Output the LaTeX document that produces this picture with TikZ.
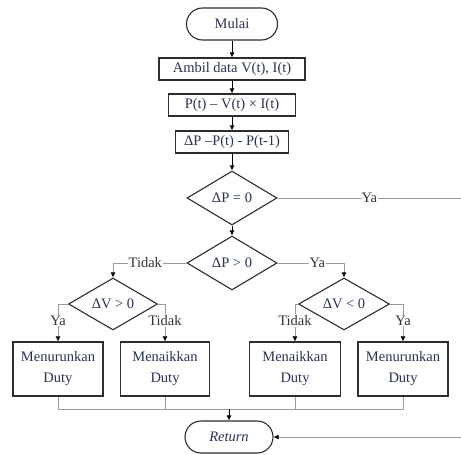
\documentclass[tikz,border=0pt]{standalone}
\usepackage{fontspec}
\setmainfont{Liberation Serif}
\usetikzlibrary{shapes.geometric,arrows.meta}
\definecolor{teks}{RGB}{40,52,82}
\definecolor{tepi}{RGB}{45,45,45}
\definecolor{abu}{RGB}{155,155,155}
\begin{document}
\begin{tikzpicture}[x=1pt,y=-1pt,
  font=\fontsize{14.5}{21}\selectfont,
  kotak/.style={rectangle, draw=tepi, line width=1.1pt, fill=white, text=teks, inner sep=1pt, align=center},
  keputusan/.style={diamond, aspect=2, draw=tepi, line width=1.1pt, fill=white, text=teks, inner sep=0pt},
  terminal/.style={rectangle, rounded corners=16pt, draw=tepi, line width=1.1pt, fill=white, text=teks},
  panah/.style={draw=black, line width=0.8pt, -{Latex[length=5pt,width=5pt]}},
  garis/.style={draw=abu, line width=0.7pt},
  cabang/.style={garis, -{Latex[length=5pt,width=5pt,color=black]}},
  ket/.style={fill=white, text=black!80, inner sep=1pt}]
\useasboundingbox (0,0) rectangle (461,455);
% alur utama
\node [terminal, minimum width=91pt, minimum height=32pt] (mulai) at (232,24) {Mulai};
\node [kotak, minimum width=146pt, minimum height=22pt] (ambil) at (232,69) {Ambil data V(t), I(t)};
\node [kotak, minimum width=127pt, minimum height=22pt] (daya) at (232,105) {P(t) – V(t) × I(t)};
\node [kotak, minimum width=113pt, minimum height=22pt] (selisih) at (232,142) {ΔP –P(t) - P(t-1)};
\node [keputusan, minimum width=90pt, minimum height=54pt] (cek0) at (232,198) {ΔP = 0};
\node [keputusan, minimum width=90pt, minimum height=54pt] (cekp) at (232,263) {ΔP > 0};
% cabang tegangan
\node [keputusan, minimum width=89pt, minimum height=52pt] (cekvl) at (113,304) {ΔV > 0};
\node [keputusan, minimum width=91pt, minimum height=52pt] (cekvr) at (344,304) {ΔV < 0};
\node [kotak, minimum width=90pt, minimum height=54pt] (turun1) at (58,369) {Menurunkan\\Duty};
\node [kotak, minimum width=89pt, minimum height=54pt] (naik1) at (165,369) {Menaikkan\\Duty};
\node [kotak, minimum width=91pt, minimum height=54pt] (naik2) at (295,369) {Menaikkan\\Duty};
\node [kotak, minimum width=90pt, minimum height=54pt] (turun2) at (403,369) {Menurunkan\\Duty};
\node [terminal, minimum width=88pt, minimum height=32pt] (selesai) at (229,437) {\itshape Return};
\coordinate (kanan0) at (461,198);
\coordinate (kanan1) at (461,437);
\coordinate (gabung) at (229,409);
% panah
\draw [panah] (mulai) -- (ambil);
\draw [panah] (ambil) -- (daya);
\draw [panah] (daya) -- (selisih);
\draw [panah] (selisih) -- (cek0);
\draw [panah] (cek0) -- (cekp);
\draw [garis] (cek0.east) -- node [ket, pos=0.5] {Ya} (kanan0);
\draw [cabang] (cekp.west) -| node [ket, pos=0.28] {Tidak} (cekvl.north);
\draw [cabang] (cekp.east) -| node [ket, pos=0.3] {Ya} (cekvr.north);
\draw [cabang] (cekvl.west) -| node [ket, pos=0.72] {Ya} (turun1.north);
\draw [cabang] (cekvl.east) -| node [ket, pos=0.72] {Tidak} (naik1.north);
\draw [cabang] (cekvr.west) -| node [ket, pos=0.72] {Tidak} (naik2.north);
\draw [cabang] (cekvr.east) -| node [ket, pos=0.72] {Ya} (turun2.north);
\draw [garis] (turun1.south) |- (gabung);
\draw [garis] (naik1.south) |- (gabung);
\draw [garis] (naik2.south) |- (gabung);
\draw [garis] (turun2.south) |- (gabung);
\draw [panah] (gabung) -- (selesai);
\draw [cabang] (kanan1) -- (selesai.east);
\end{tikzpicture}
\end{document}
